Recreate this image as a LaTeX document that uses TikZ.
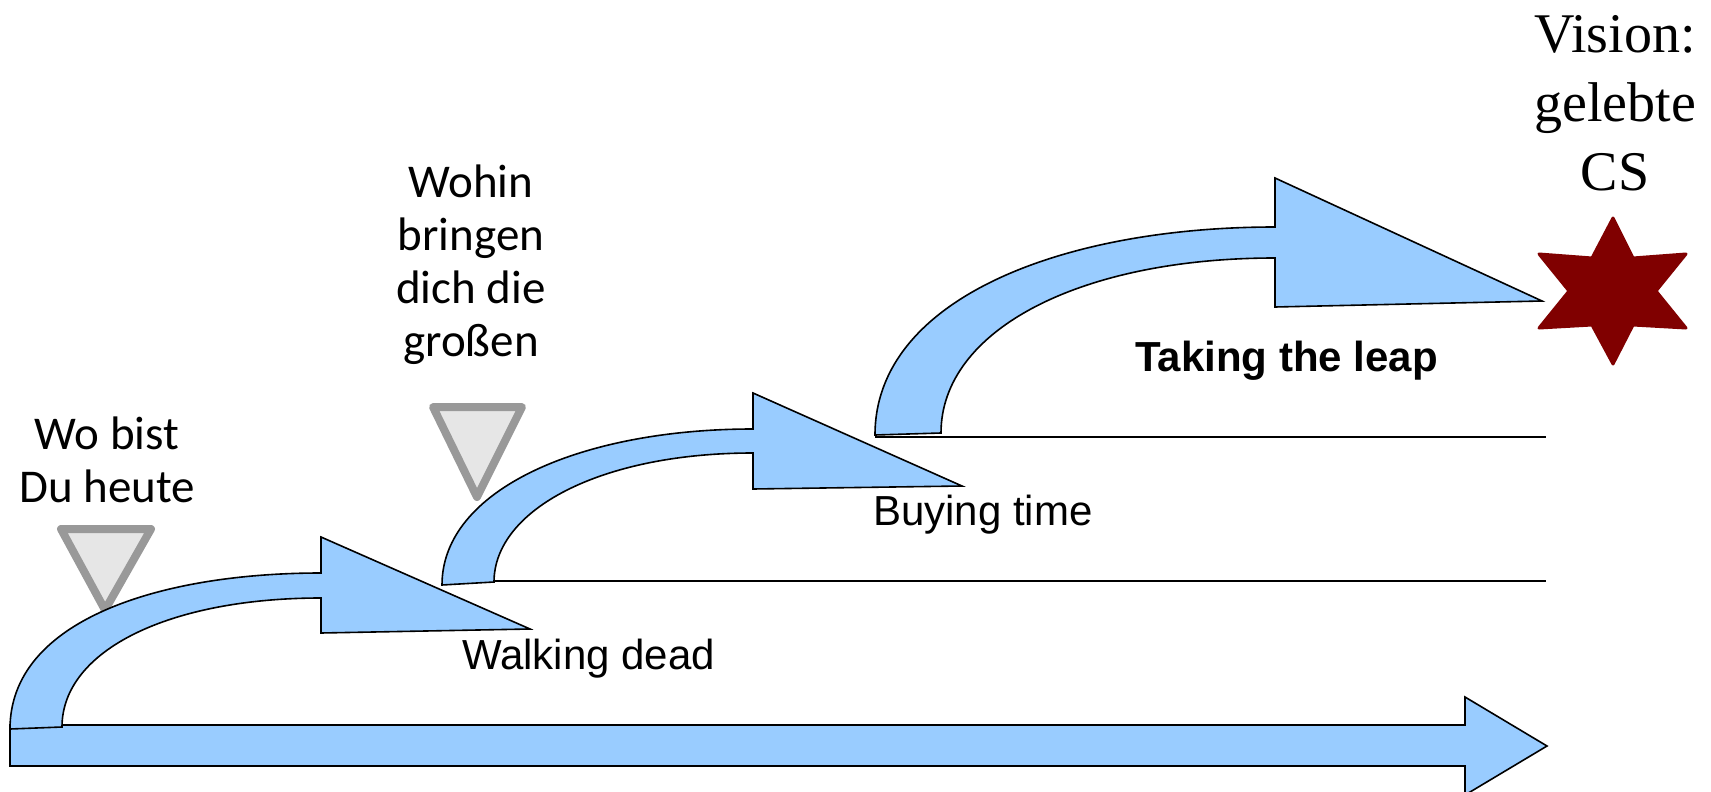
\documentclass[tikz,border=0pt]{standalone}
\usepackage{fontspec}
\newfontfamily\carlitofont{Carlito}
\newfontfamily\lsansfont{Liberation Sans}
\newfontfamily\lseriffont{Liberation Serif}
\definecolor{arrowblue}{HTML}{99CCFF}
\definecolor{markerfill}{HTML}{E6E6E6}
\definecolor{markergray}{HTML}{999999}
\definecolor{stardark}{HTML}{800000}
\tikzset{
  blockarrow/.style={fill=arrowblue, draw=black, line width=1.6pt, line join=miter},
  marker/.style={fill=markerfill, draw=markergray, line width=8pt, line join=round},
  levelline/.style={draw=black, line width=1.8pt},
  question/.style={align=center, inner sep=0pt, anchor=base, font=\carlitofont\fontsize{47}{53}\selectfont},
  stagelabel/.style={inner sep=0pt, anchor=base west, font=\lsansfont\fontsize{42}{48}\selectfont},
  visionlabel/.style={align=center, inner sep=0pt, anchor=base, font=\lseriffont\fontsize{56}{69}\selectfont},
}
\begin{document}
\begin{tikzpicture}[x=1pt, y=-1pt]
\useasboundingbox (0,0) rectangle (1711,792);
\fill[white] (0,0) rectangle (1711,792);

% markers
\draw[marker] (61,529) -- (151,529) -- (105,610) -- cycle;
\draw[marker] (433,407) -- (522,407) -- (477,497) -- cycle;

% level lines
\coordinate (l1s) at (494,581);
\coordinate (l1e) at (1546,581);
\coordinate (l2s) at (875,437);
\coordinate (l2e) at (1546,437);
\draw[levelline] (l1s) -- (l1e);
\draw[levelline] (l2s) -- (l2e);

% main horizontal arrow
\draw[blockarrow] (10,725) -- (1465,725) -- (1465,697) -- (1547,746) -- (1465,795) -- (1465,766) -- (10,766) -- cycle;

% curved arrow 3
\draw[blockarrow] (875,435) .. controls (875,300) and (1060,227) .. (1275,227) -- (1275,178) -- (1542,301) -- (1275,307) -- (1275,258) .. controls (1080,258) and (941,330) .. (941,433) -- cycle;

% curved arrow 2
\draw[blockarrow] (442,585) .. controls (442,490) and (580,429) .. (753,429) -- (753,393) -- (962,486) -- (753,489) -- (753,453) .. controls (600,453) and (494,510) .. (494,582) -- cycle;

% curved arrow 1
\draw[blockarrow] (10,729) .. controls (10,620) and (160,573) .. (321,573) -- (321,537) -- (530,629) -- (321,633) -- (321,598) .. controls (170,598) and (62,650) .. (62,727) -- cycle;

% star
\draw[fill=stardark, draw=stardark, line width=3pt, line join=round]
  (1613,218) -- (1633,258) -- (1686,254) -- (1656,291) -- (1686,328) -- (1633,325)
  -- (1613,364) -- (1592,325) -- (1539,328) -- (1569,291) -- (1539,254) -- (1592,258) -- cycle;

% texts
\node[question] (wo) at (107,502) {Wo bist\\Du heute};
\node[question] (wohin) at (471,356) {Wohin\\bringen\\dich die\\großen};
\node[stagelabel] (walking) at (462,669) {Walking dead};
\node[stagelabel] (buying) at (873,525) {Buying time};
\node[stagelabel, font=\lsansfont\bfseries\fontsize{42}{48}\selectfont] (leap) at (1135,371) {Taking the leap};
\node[visionlabel] (vision) at (1615,190) {Vision:\\gelebte\\CS};
\end{tikzpicture}
\end{document}
